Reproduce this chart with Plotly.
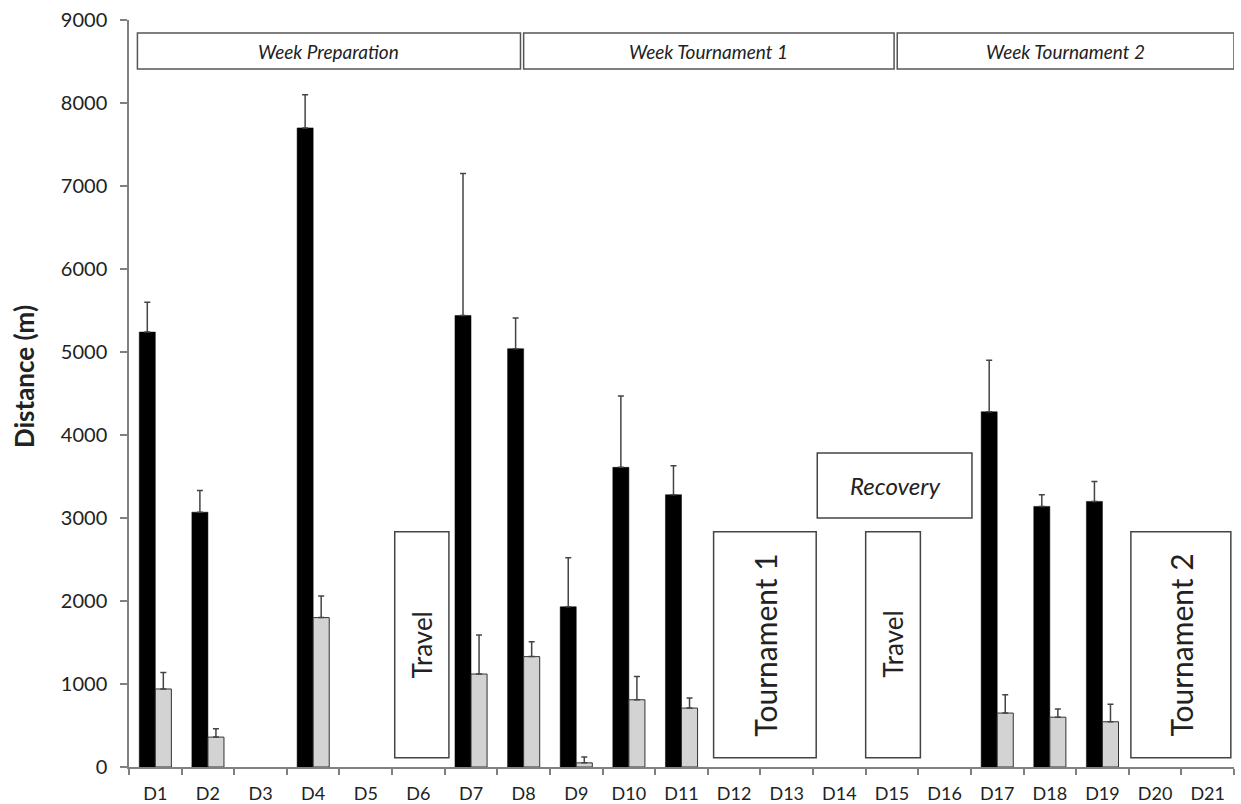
import plotly.graph_objects as go

days = ["D1", "D2", "D3", "D4", "D5", "D6", "D7", "D8", "D9", "D10", "D11",
        "D12", "D13", "D14", "D15", "D16", "D17", "D18", "D19", "D20", "D21"]

total_dist = [5240, 3070, None, 7700, None, None, 5440, 5040, 1930, 3610, 3280,
              None, None, None, None, None, 4280, 3140, 3200, None, None]
total_sd = [360, 260, None, 400, None, None, 1710, 370, 590, 860, 350,
            None, None, None, None, None, 620, 140, 240, None, None]

hi_dist = [940, 360, None, 1800, None, None, 1120, 1330, 50, 810, 710,
           None, None, None, None, None, 650, 600, 545, None, None]
hi_sd = [200, 100, None, 260, None, None, 470, 180, 70, 280, 120,
         None, None, None, None, None, 220, 100, 210, None, None]

week_labels = ["Week Preparation", "Week Tournament 1", "Week Tournament 2"]
week_spans = [(-0.34, 6.94), (7.0, 14.04), (14.1, 20.5)]
event_labels = ["Travel", "Tournament 1", "Travel", "Tournament 2"]
event_spans = [(4.55, 5.58), (10.61, 12.56), (13.5, 14.54), (18.54, 20.44)]
event_sizes = [26, 30, 26, 30]

FONT = "Lato"
TXT = "#222222"

fig = go.Figure()
fig.add_trace(go.Bar(
    x=days, y=total_dist, marker=dict(color="black", line=dict(color="black", width=0.5)),
    error_y=dict(type="data", symmetric=False, array=total_sd,
                 arrayminus=[0] * len(days), color="#444444", thickness=1.5, width=3),
    showlegend=False))
fig.add_trace(go.Bar(
    x=days, y=hi_dist, marker=dict(color="#d3d3d3", line=dict(color="#333333", width=1)),
    error_y=dict(type="data", symmetric=False, array=hi_sd,
                 arrayminus=[0] * len(days), color="#444444", thickness=1.5, width=3),
    showlegend=False))

shapes = []
annotations = []
for lab, (x0, x1) in zip(week_labels, week_spans):
    shapes.append(dict(type="rect", xref="x", yref="y", x0=x0, x1=x1, y0=8410, y1=8843,
                       line=dict(color="#555555", width=1.5), fillcolor="white", layer="above"))
    annotations.append(dict(x=(x0 + x1) / 2, y=(8410 + 8843) / 2, xref="x", yref="y",
                            text="<i>" + lab + "</i>", showarrow=False,
                            font=dict(family=FONT, size=19, color=TXT)))

for lab, (x0, x1), sz in zip(event_labels, event_spans, event_sizes):
    shapes.append(dict(type="rect", xref="x", yref="y", x0=x0, x1=x1, y0=112, y1=2835,
                       line=dict(color="#444444", width=1.5), fillcolor="rgba(0,0,0,0)"))
    annotations.append(dict(x=(x0 + x1) / 2, y=1473, xref="x", yref="y", text=lab,
                            textangle=-90, showarrow=False,
                            font=dict(family=FONT, size=sz, color=TXT)))

shapes.append(dict(type="rect", xref="x", yref="y", x0=12.58, x1=15.52, y0=3000, y1=3783,
                   line=dict(color="#444444", width=1.5), fillcolor="rgba(0,0,0,0)"))
annotations.append(dict(x=(12.58 + 15.52) / 2, y=3391, xref="x", yref="y",
                        text="<i>Recovery</i>", showarrow=False,
                        font=dict(family=FONT, size=24, color=TXT)))

# y-axis title
annotations.append(dict(x=-0.095, y=0.522, xref="paper", yref="paper",
                        text="<b>Distance (m)</b>", textangle=-90, showarrow=False,
                        xanchor="center", yanchor="middle",
                        font=dict(family=FONT, size=26, color=TXT)))

fig.update_layout(
    width=1241, height=804,
    margin=dict(l=129, r=7, t=20, b=37),
    paper_bgcolor="white", plot_bgcolor="white",
    barmode="group", bargap=0.39, bargroupgap=0,
    shapes=shapes, annotations=annotations,
    showlegend=False,
)
fig.update_xaxes(
    type="category", categoryorder="array", categoryarray=days,
    showline=True, linecolor="#808080", linewidth=1.5,
    ticks="outside", tickson="boundaries", ticklen=6, tickcolor="#808080", tickwidth=1.5,
    tickfont=dict(family=FONT, size=18, color=TXT), showgrid=False, zeroline=False,
    range=[-0.5, 20.5], ticklabelstandoff=10, automargin=False,
)
fig.update_yaxes(
    range=[0, 9000], dtick=1000, tick0=0,
    showline=True, linecolor="#808080", linewidth=1.5,
    ticks="outside", ticklen=7, tickcolor="#808080", tickwidth=1.5,
    tickfont=dict(family=FONT, size=20, color=TXT), showgrid=False, zeroline=False,
    ticklabelstandoff=9, automargin=False,
)

fig.write_html("out.html", config={"displayModeBar": False},
               post_script="document.body.style.margin='0';")
